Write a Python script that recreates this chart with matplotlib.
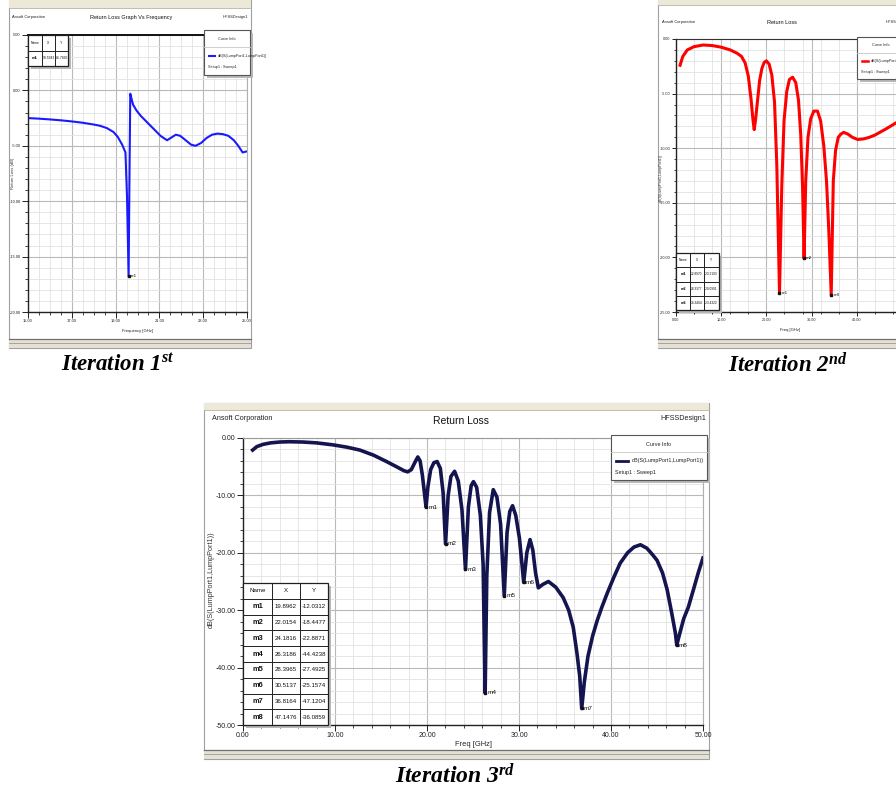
import matplotlib.pyplot as plt
from matplotlib.patches import Rectangle
from matplotlib.lines import Line2D
from matplotlib.ticker import MultipleLocator, FuncFormatter

W, H = 896, 786

# Iteration 1: 15-25 GHz sweep
freq1 = [15.0, 15.5, 16.0, 16.5, 17.0, 17.5, 18.0, 18.3, 18.6, 18.9, 19.1, 19.3, 19.45, 19.52,
         19.5943, 19.63, 19.67, 19.72, 19.8, 19.95, 20.15, 20.45, 20.75, 21.05, 21.35, 21.55,
         21.75, 21.95, 22.2, 22.45, 22.65, 22.9, 23.15, 23.4, 23.65, 23.9, 24.15, 24.4, 24.6,
         24.8, 25.0]
db1 = [-2.5, -2.55, -2.62, -2.7, -2.8, -2.92, -3.08, -3.2, -3.4, -3.75, -4.2, -4.9, -5.6, -9.5,
       -16.7866, -8.5, -0.3, -0.7, -1.3, -1.8, -2.3, -2.9, -3.5, -4.1, -4.5, -4.25,
       -4.0, -4.1, -4.5, -4.9, -5.0, -4.75, -4.3, -4.0, -3.9, -3.95, -4.1, -4.5, -5.0,
       -5.6, -5.5]
names1 = ['m1']
mx1 = [19.5943]
my1 = [-16.7866]

# Iteration 2: 0-50 GHz sweep
freq2 = [0.9, 1.5, 2.5, 4.0, 6.0, 8.0, 10.0, 12.0, 13.5, 14.5, 15.3, 16.0, 16.6, 17.0, 17.3,
         17.6, 18.0, 18.5, 19.0, 19.5, 20.0, 20.6, 21.2, 21.8, 22.3, 22.897, 23.4, 23.9, 24.5,
         25.1, 25.8, 26.5, 27.1, 27.6, 28.0, 28.3377, 28.7, 29.2, 29.8, 30.5, 31.3, 32.0, 32.7,
         33.3, 33.8, 34.3404, 34.8, 35.3, 35.9, 36.5, 37.1, 38.0, 39.0, 40.2, 41.5, 42.8, 44.0,
         45.3, 46.6, 47.8, 49.0, 50.0]
db2 = [-2.4, -1.6, -1.0, -0.7, -0.55, -0.6, -0.75, -1.0, -1.3, -1.6, -2.2, -3.4, -5.5, -7.3, -8.3,
       -7.4, -5.8, -3.8, -2.7, -2.15, -2.0, -2.3, -3.3, -5.8, -11.5, -23.2193, -13.5, -7.5, -4.8,
       -3.7, -3.5, -4.0, -5.6, -8.8, -13.5, -20.0991, -13.0, -9.0, -7.3, -6.6, -6.6, -7.5, -9.8,
       -13.0, -17.5, -23.4322, -13.0, -10.2, -9.0, -8.7, -8.55, -8.7, -9.0, -9.2, -9.15, -9.0, -8.8,
       -8.5, -8.2, -7.9, -7.6, -7.3]
names2 = ['m1', 'm2', 'm3']
mx2 = [22.8970, 28.3377, 34.3404]
my2 = [-23.2193, -20.0991, -23.4322]

# Iteration 3: 0-50 GHz sweep
freq3 = [1.05, 1.5, 2.2, 3.0, 4.0, 5.0, 6.5, 8.0, 9.8, 11.3, 12.7, 14.2, 15.6, 16.8, 17.5,
         17.9, 18.3, 18.7, 19.0, 19.25, 19.5, 19.7, 19.8962, 20.1, 20.4, 20.75, 21.1, 21.45, 21.75,
         22.0154, 22.3, 22.6, 23.0, 23.4, 23.8, 24.1816, 24.5, 24.8, 25.05, 25.4, 25.8, 26.1,
         26.3186, 26.5, 26.8, 27.2, 27.6, 28.0, 28.3965, 28.7, 29.0, 29.3, 29.65, 30.05, 30.5137,
         30.85, 31.2, 31.5, 31.8, 32.1, 32.6, 33.2, 34.0, 34.8, 35.4, 35.9, 36.3, 36.6, 36.8164,
         37.1, 37.5, 38.0, 38.5, 39.0, 39.6, 40.3, 41.0, 41.8, 42.5, 43.2, 43.9, 44.5, 45.0, 45.6,
         46.1, 46.6, 47.0, 47.1476, 47.4, 47.9, 48.4, 49.0, 49.5, 50.0]
db3 = [-2.1, -1.5, -1.1, -0.85, -0.7, -0.65, -0.7, -0.85, -1.2, -1.6, -2.1, -3.0, -4.1, -5.1, -5.7,
       -5.9, -5.5, -4.2, -3.3, -4.0, -6.5, -9.3, -12.0312, -8.5, -5.5, -4.3, -4.1, -5.3, -9.5,
       -18.4477, -10.0, -6.7, -5.8, -7.5, -12.5, -22.8871, -12.0, -8.3, -7.6, -8.6, -13.5, -22.0,
       -44.4238, -24.0, -13.0, -9.0, -10.3, -15.0, -27.4925, -16.5, -12.8, -11.8, -13.5, -17.5, -25.1574,
       -20.0, -17.7, -19.5, -23.5, -26.1, -25.5, -25.0, -26.0, -27.8, -30.0, -33.0, -37.5, -41.5, -47.1204,
       -42.5, -38.0, -34.5, -31.8, -29.5, -27.0, -24.3, -21.8, -20.0, -19.0, -18.6, -19.2, -20.3, -21.3, -23.5,
       -26.4, -30.5, -34.0, -36.0859, -34.5, -31.5, -29.5, -26.2, -23.4, -20.9]
names3 = ['m1', 'm2', 'm3', 'm4', 'm5', 'm6', 'm7', 'm8']
mx3 = [19.8962, 22.0154, 24.1816, 26.3186, 28.3965, 30.5137, 36.8164, 47.1476]
my3 = [-12.0312, -18.4477, -22.8871, -44.4238, -27.4925, -25.1574, -47.1204, -36.0859]

trace = 'dB(S(LumpPort1,LumpPort1))'
setup = 'Setup1 : Sweep1'

plt.rcParams['font.family'] = ['Liberation Sans', 'DejaVu Sans']
plt.rcParams['mathtext.fontset'] = 'custom'
plt.rcParams['mathtext.rm'] = 'Liberation Serif:bold:italic'
plt.rcParams['mathtext.it'] = 'Liberation Serif:bold:italic'

fig = plt.figure(figsize=(W / 100, H / 100), dpi=100)
fig.patch.set_facecolor('white')


# helpers working in pixel coordinates (origin top-left)
def fx(x):
    return x / W


def fy(y):
    return 1 - y / H


def box(x0, y0, x1, y1, **kw):
    fig.add_artist(Rectangle((fx(x0), fy(y1)), (x1 - x0) / W, (y1 - y0) / H,
                             transform=fig.transFigure, **kw))


def line(xs, ys, **kw):
    fig.add_artist(Line2D([fx(x) for x in xs], [fy(y) for y in ys],
                          transform=fig.transFigure, **kw))


def txt(x, y, s, **kw):
    kw.setdefault('zorder', 6)
    fig.text(fx(x), fy(y), s, **kw)


def window(x0, y0, x1, y1, bar):
    box(x0, y0, x1, y1, facecolor='white', edgecolor='#a0a0a0', lw=0.8, zorder=-3)
    box(x0, y0, x1, y0 + bar, facecolor='#ece9d8', edgecolor='none', zorder=-2)
    line([x0, x1], [y0 + bar, y0 + bar], color='#b5b2a5', lw=0.6, zorder=-2)
    box(x0, y1 - 9, x1, y1, facecolor='#e4e1d4', edgecolor='none', zorder=-2)
    line([x0, x1], [y1 - 9, y1 - 9], color='#6f6f6f', lw=0.9, zorder=-2)
    line([x0, x1], [y1 - 5, y1 - 5], color='#9a9a9a', lw=0.6, zorder=-2)


def fmt(v, pos):
    return '0.00' if abs(v) < 1e-9 else f'{v:.2f}'


def plot_axes(rect, xlim, ylim, xmaj, xmin, ymaj, ymin, fs, top_color, xoff=0, tlen=4):
    x0, y0, x1, y1 = rect
    ax = fig.add_axes([fx(x0), fy(y1), (x1 - x0) / W, (y1 - y0) / H])
    ax.set_xlim(xlim)
    ax.set_ylim(ylim)
    ax.xaxis.set_major_locator(MultipleLocator(xmaj, offset=xoff))
    ax.xaxis.set_minor_locator(MultipleLocator(xmin))
    ax.yaxis.set_major_locator(MultipleLocator(ymaj))
    ax.yaxis.set_minor_locator(MultipleLocator(ymin))
    ax.xaxis.set_major_formatter(FuncFormatter(fmt))
    ax.yaxis.set_major_formatter(FuncFormatter(fmt))
    ax.grid(which='minor', color='#e2e2e2', lw=0.6)
    ax.grid(which='major', color='#b9b9b9', lw=0.8)
    ax.set_axisbelow(True)
    ax.tick_params(which='major', direction='out', length=tlen, width=0.7, labelsize=fs,
                   colors='#222222', pad=1.2)
    ax.tick_params(which='minor', direction='out', length=tlen * 0.6, width=0.6, colors='#222222')
    for s in ['left', 'bottom']:
        ax.spines[s].set_color('#222222')
        ax.spines[s].set_linewidth(1.0)
    ax.spines['top'].set_color(top_color)
    ax.spines['right'].set_color('#b0b0b0')
    ax.spines['right'].set_linewidth(0.8)
    return ax


def table(cols, y0, rowh, names, xs, ys, fs):
    rows = [('Name', 'X', 'Y')] + [(n, f'{a:.4f}', f'{b:.4f}') for n, a, b in zip(names, xs, ys)]
    y1 = y0 + rowh * len(rows)
    box(cols[0] + 3, y0 + 3, cols[-1] + 3, y1 + 3, facecolor='#b8b8b8', edgecolor='none', zorder=4)
    box(cols[0], y0, cols[-1], y1, facecolor='white', edgecolor='#202020', lw=0.9, zorder=4.5)
    for c in cols[1:-1]:
        line([c, c], [y0, y1], color='#202020', lw=0.7, zorder=4.6)
    for i, row in enumerate(rows):
        yy = y0 + rowh * i
        if i > 0:
            line([cols[0], cols[-1]], [yy, yy], color='#202020', lw=0.7, zorder=4.6)
        for j, cell in enumerate(row):
            bold = (j == 0 and i > 0)
            txt((cols[j] + cols[j + 1]) / 2, yy + rowh / 2, cell, fontsize=fs * (1.2 if bold else 1),
                ha='center', va='center', color='#111111', fontweight='bold' if bold else 'normal')


def legend(x0, y0, x1, y1, color, fs, lw):
    h = y1 - y0
    box(x0 + 3, y0 + 3, x1 + 3, y1 + 3, facecolor='#b8b8b8', edgecolor='none', zorder=4)
    box(x0, y0, x1, y1, facecolor='white', edgecolor='#555555', lw=0.8, zorder=4.5)
    txt((x0 + x1) / 2, y0 + 0.2 * h, 'Curve Info', fontsize=fs, ha='center', va='center', color='#222222')
    line([x0, x1], [y0 + 0.38 * h, y0 + 0.38 * h], color='#c8c8c8', lw=0.6, zorder=4.6)
    line([x0 + 5, x0 + 5 + 0.13 * (x1 - x0)], [y0 + 0.57 * h] * 2, color=color, lw=lw, zorder=4.6)
    txt(x0 + 8 + 0.13 * (x1 - x0), y0 + 0.57 * h, trace, fontsize=fs, ha='left', va='center',
        color='#222222')
    txt(x0 + 4, y0 + 0.83 * h, setup, fontsize=fs, ha='left', va='center', color='#222222')


def markers(ax, names, xs, ys, fs):
    for n, a, b in zip(names, xs, ys):
        ax.plot([a], [b], marker='s', ms=2, color='#111111', zorder=5)
        ax.annotate(n, (a, b), xytext=(1.5, 0), textcoords='offset points', fontsize=fs,
                    ha='left', va='center', color='#111111', zorder=6)


def caption(x, y, s, fs):
    txt(x, y, s, fontsize=fs, ha='center', va='center',
        family='Liberation Serif', fontweight='bold', style='italic', color='black')


# ---------------- Iteration 1 ----------------
window(9, 0, 251, 348, 8)
ax1 = plot_axes((28, 35, 247, 312), (15, 25), (-20, 5), 2, 0.5, 5, 1, 2.9, '#111111', xoff=1)
ax1.spines['top'].set_linewidth(1.4)
ax1.plot(freq1, db1, color='#1a1aff', lw=1.5, solid_joinstyle='round')
markers(ax1, names1, mx1, my1, 3.2)
txt(12, 17, 'Ansoft Corporation', fontsize=2.9, ha='left', va='center', color='#222222')
txt(131, 18, 'Return Loss Graph Vs Frequency', fontsize=4.0, ha='center', va='center', color='#111111')
txt(248, 17, 'HFSSDesign1', fontsize=2.9, ha='right', va='center', color='#222222')
txt(13, 173, 'Return Loss (dB)', fontsize=3.0, rotation=90, ha='center', va='center', color='#333333')
txt(137, 331, 'Frequency [GHz]', fontsize=3.0, ha='center', va='center', color='#222222')
table([28, 42, 55, 68], 35, 15.5, names1, mx1, my1, 2.4)
legend(204, 30, 250, 75, '#1a1aff', 2.7, 1.5)
caption(118, 365, 'Iteration 1$^{st}$', 16.5)

# ---------------- Iteration 2 ----------------
window(658, 0, 900, 348, 5)
ax2 = plot_axes((676, 39, 902, 312), (0, 50), (-25, 0), 10, 4, 5, 1, 2.7, '#333333', tlen=3)
ax2.plot(freq2, db2, color='#ff0000', lw=2.2, solid_joinstyle='round')
markers(ax2, names2, mx2, my2, 3.2)
txt(662, 22, 'Ansoft Corporation', fontsize=2.9, ha='left', va='center', color='#222222')
txt(782, 23, 'Return Loss', fontsize=4.0, ha='center', va='center', color='#111111')
txt(886, 22, 'HFSSDesign1', fontsize=2.9, ha='left', va='center', color='#222222')
txt(660.5, 178, trace, fontsize=2.6, rotation=90, ha='center', va='center', color='#333333')
txt(790, 330, 'Freq [GHz]', fontsize=3.0, ha='center', va='center', color='#222222')
table([676, 690, 704, 719], 253, 14.3, names2, mx2, my2, 2.3)
legend(857, 37, 905, 79, '#ff0000', 2.7, 1.8)
caption(788, 365, 'Iteration 2$^{nd}$', 16.5)

# ---------------- Iteration 3 ----------------
window(204, 403, 709, 759, 7)
ax3 = plot_axes((243, 438, 703, 725), (0, 50), (-50, 0), 10, 2, 10, 2, 5.0, '#9a9a9a')
ax3.plot(freq3, db3, color='#14144e', lw=2.6, solid_joinstyle='round')
markers(ax3, names3, mx3, my3, 4.6)
txt(212, 418, 'Ansoft Corporation', fontsize=5.2, ha='left', va='center', color='#222222')
txt(461, 421, 'Return Loss', fontsize=7.5, ha='center', va='center', color='#111111')
txt(706, 418, 'HFSSDesign1', fontsize=5.2, ha='right', va='center', color='#222222')
txt(211, 580, trace, fontsize=5.2, rotation=90, ha='center', va='center', color='#333333')
txt(473, 744, 'Freq [GHz]', fontsize=5.4, ha='center', va='center', color='#222222')
table([243, 272, 300, 328], 583, 15.8, names3, mx3, my3, 4.4)
legend(611, 435, 707, 480, '#14144e', 3.9, 2.0)
caption(455, 776, 'Iteration 3$^{rd}$', 17)

fig.savefig('out.png', dpi=100)
